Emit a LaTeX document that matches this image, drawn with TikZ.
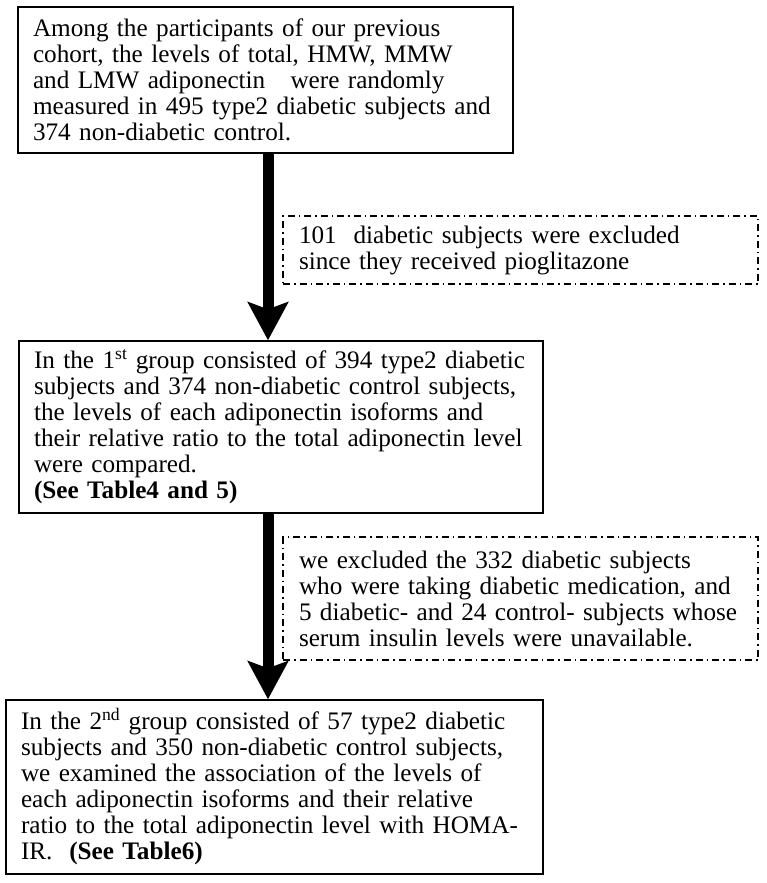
\documentclass[tikz,border=0pt]{standalone}
\usepackage{fontspec}
\setmainfont{Liberation Serif}
\usetikzlibrary{arrows.meta}
\usetikzlibrary{positioning}
\hyphenpenalty=10000

\begin{document}
\begin{tikzpicture}[x=1pt,y=1pt]
            \tikzset{every node/.style={draw, line width=1.4pt, align=left, inner xsep=15pt,
                        font=\fontsize{25.2}{26}\selectfont},
                    exclbox/.style={dash pattern=on 7pt off 4pt on 1.5pt off 4pt},
                    >={Stealth[black, length=38pt, width=40pt, inset=7pt]},
                    every edge/.style={draw=black, line width=11pt}}
            \useasboundingbox (0,0) rectangle (766,-883);
            \node[minimum width=495pt, minimum height=146pt, text width=465pt] (all) at (265.5,-80)
                {Among the participants of our previous\\
                 cohort, the levels of total, HMW, MMW\\
                 and LMW adiponectin\ \ \ were randomly\\
                 measured in 495 type2 diabetic subjects and\\
                 374 non-diabetic control.};
            \node[exclbox, minimum width=475pt, minimum height=68pt, text width=443pt] (excl1) at (520.5,-250)
                {101\ \ diabetic subjects were excluded\\
                 since they received pioglitazone};
            \node[minimum width=524pt, minimum height=172pt, text width=494pt] (grp1) at (281,-427)
                {In the 1\textsuperscript{st} group consisted of 394 type2 diabetic\\
                 subjects and 374 non-diabetic control subjects,\\
                 the levels of each adiponectin isoforms and\\
                 their relative ratio to the total adiponectin level\\
                 were compared.\\
                 \textbf{(See Table4 and 5)}};
            \node[exclbox, minimum width=475pt, minimum height=123pt, text width=443pt] (excl2) at (520.5,-598.5)
                {we excluded the 332 diabetic subjects\\
                 who were taking diabetic medication, and\\
                 5 diabetic- and 24 control- subjects whose\\
                 serum insulin levels were unavailable.};
            \node[minimum width=537pt, minimum height=174pt, text width=507pt] (grp2) at (274.5,-787)
                {In the 2\textsuperscript{nd} group consisted of 57 type2 diabetic\\
                 subjects and 350 non-diabetic control subjects,\\
                 we examined the association of the levels of\\
                 each adiponectin isoforms and their relative\\
                 ratio to the total adiponectin level with HOMA-\\
                 IR.\ \ \textbf{(See Table6)}};
            \coordinate (ax) at (268,0);
            \path [->] (all.south -| ax) edge (grp1.north -| ax);
            \path [->] (grp1.south -| ax) edge (grp2.north -| ax);
        \end{tikzpicture}
\end{document}
